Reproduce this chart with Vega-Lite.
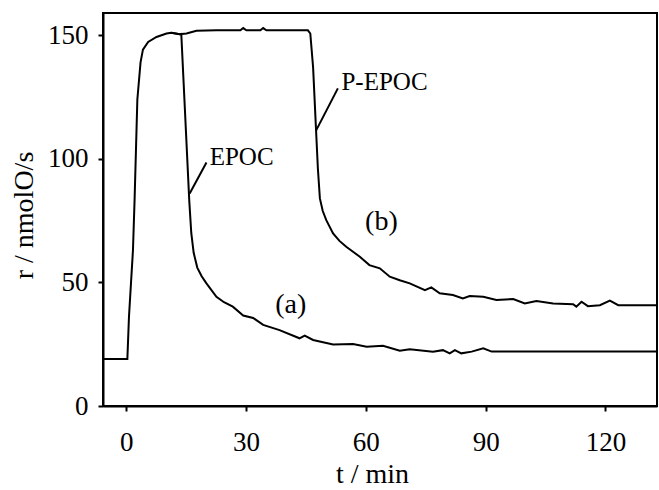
{
  "$schema": "https://vega.github.io/schema/vega-lite/v6.json",
  "autosize": "none",
  "width": 554,
  "height": 393,
  "padding": {"left": 103, "top": 13, "right": 2, "bottom": 84},
  "background": "white",
  "config": {
    "font": "Liberation Serif",
    "view": {"stroke": "black", "strokeWidth": 2},
    "axis": {
      "grid": false,
      "domainColor": "black",
      "domainWidth": 2,
      "tickColor": "black",
      "tickWidth": 2,
      "tickSize": 5,
      "labelFont": "Liberation Serif",
      "labelFontSize": 27,
      "labelColor": "black",
      "titleFont": "Liberation Serif",
      "titleFontSize": 28,
      "titleFontWeight": "normal",
      "titleColor": "black"
    }
  },
  "datasets": {
    "curves": [
      {"series": "a", "t": -5.8, "r": 19},
      {"series": "a", "t": 0.3, "r": 19},
      {"series": "a", "t": 0.7, "r": 36},
      {"series": "a", "t": 1.7, "r": 63},
      {"series": "a", "t": 2.1, "r": 83},
      {"series": "a", "t": 2.8, "r": 124},
      {"series": "a", "t": 3.6, "r": 139},
      {"series": "a", "t": 4.2, "r": 144.2},
      {"series": "a", "t": 5.5, "r": 147.3},
      {"series": "a", "t": 7.6, "r": 149.3},
      {"series": "a", "t": 10.1, "r": 150.7},
      {"series": "a", "t": 11.3, "r": 151},
      {"series": "a", "t": 13.4, "r": 150.4},
      {"series": "a", "t": 13.8, "r": 150.5},
      {"series": "a", "t": 15.8, "r": 83},
      {"series": "a", "t": 16.3, "r": 70},
      {"series": "a", "t": 16.9, "r": 62},
      {"series": "a", "t": 17.8, "r": 56},
      {"series": "a", "t": 18.9, "r": 52.5},
      {"series": "a", "t": 20.1, "r": 49.6},
      {"series": "a", "t": 22.6, "r": 44.2},
      {"series": "a", "t": 24.5, "r": 42},
      {"series": "a", "t": 26.7, "r": 40.2},
      {"series": "a", "t": 29.3, "r": 36.6},
      {"series": "a", "t": 31.8, "r": 35.6},
      {"series": "a", "t": 34.3, "r": 32.8},
      {"series": "a", "t": 38.4, "r": 30.7},
      {"series": "a", "t": 43.4, "r": 27.4},
      {"series": "a", "t": 44.7, "r": 28.5},
      {"series": "a", "t": 46.8, "r": 26.7},
      {"series": "a", "t": 51.8, "r": 24.9},
      {"series": "a", "t": 56.8, "r": 25.1},
      {"series": "a", "t": 60.2, "r": 24},
      {"series": "a", "t": 64.3, "r": 24.4},
      {"series": "a", "t": 68.5, "r": 22.4},
      {"series": "a", "t": 71, "r": 23},
      {"series": "a", "t": 76.8, "r": 22},
      {"series": "a", "t": 79.3, "r": 22.6},
      {"series": "a", "t": 81, "r": 21.3},
      {"series": "a", "t": 82.3, "r": 22.6},
      {"series": "a", "t": 83.9, "r": 21.3},
      {"series": "a", "t": 86.5, "r": 22},
      {"series": "a", "t": 89.4, "r": 23.3},
      {"series": "a", "t": 91.5, "r": 22},
      {"series": "a", "t": 132.9, "r": 22},
      {"series": "b", "t": 11.3, "r": 151},
      {"series": "b", "t": 13.4, "r": 150.4},
      {"series": "b", "t": 15.1, "r": 150.7},
      {"series": "b", "t": 17.6, "r": 151.8},
      {"series": "b", "t": 22.6, "r": 152},
      {"series": "b", "t": 28.6, "r": 152},
      {"series": "b", "t": 29.3, "r": 152.9},
      {"series": "b", "t": 30.1, "r": 152},
      {"series": "b", "t": 33.6, "r": 152},
      {"series": "b", "t": 34.3, "r": 152.9},
      {"series": "b", "t": 35.1, "r": 152},
      {"series": "b", "t": 45.5, "r": 152},
      {"series": "b", "t": 46.1, "r": 150.7},
      {"series": "b", "t": 46.8, "r": 137},
      {"series": "b", "t": 47.5, "r": 113},
      {"series": "b", "t": 48.0, "r": 96},
      {"series": "b", "t": 48.5, "r": 84},
      {"series": "b", "t": 49.2, "r": 79},
      {"series": "b", "t": 50.1, "r": 75.2},
      {"series": "b", "t": 51.8, "r": 69.8},
      {"series": "b", "t": 53.4, "r": 66.8},
      {"series": "b", "t": 55.1, "r": 64.4},
      {"series": "b", "t": 58.5, "r": 60.4},
      {"series": "b", "t": 60.9, "r": 57},
      {"series": "b", "t": 63.5, "r": 55.7},
      {"series": "b", "t": 66, "r": 52.3},
      {"series": "b", "t": 68.5, "r": 50.9},
      {"series": "b", "t": 71, "r": 49.6},
      {"series": "b", "t": 74.8, "r": 46.9},
      {"series": "b", "t": 76.4, "r": 48},
      {"series": "b", "t": 78.5, "r": 45.6},
      {"series": "b", "t": 81.8, "r": 44.9},
      {"series": "b", "t": 84.3, "r": 43.5},
      {"series": "b", "t": 86, "r": 44.5},
      {"series": "b", "t": 89.4, "r": 44.2},
      {"series": "b", "t": 92.7, "r": 42.9},
      {"series": "b", "t": 96.9, "r": 43.3},
      {"series": "b", "t": 99.8, "r": 41.5},
      {"series": "b", "t": 102.7, "r": 42.5},
      {"series": "b", "t": 106.9, "r": 41.5},
      {"series": "b", "t": 111.9, "r": 41.2},
      {"series": "b", "t": 112.7, "r": 40.2},
      {"series": "b", "t": 114, "r": 42.2},
      {"series": "b", "t": 115.6, "r": 40.4},
      {"series": "b", "t": 118.6, "r": 40.8},
      {"series": "b", "t": 121.1, "r": 42.6},
      {"series": "b", "t": 123.2, "r": 40.8},
      {"series": "b", "t": 132.9, "r": 40.8}
    ],
    "pointers": [
      {"t": 20.1, "r": 98.5, "t2": 15.9, "r2": 86},
      {"t": 53.0, "r": 128.5, "t2": 47.6, "r2": 111.6}
    ],
    "names": [
      {"label": "EPOC", "t": 20.9, "r": 97.5},
      {"label": "P-EPOC", "t": 53.9, "r": 127.8}
    ],
    "tags": [
      {"label": "(a)", "t": 41.2, "r": 37.6},
      {"label": "(b)", "t": 63.9, "r": 71.2}
    ]
  },
  "layer": [
    {
      "data": {"name": "curves"},
      "mark": {"type": "line", "color": "black", "strokeWidth": 2, "clip": true},
      "encoding": {
        "x": {
          "field": "t", "type": "quantitative",
          "scale": {"domain": [-5.8, 132.9], "nice": false, "zero": false},
          "axis": {"values": [0, 30, 60, 90, 120], "title": "t / min", "labelPadding": 18, "titleX": 269, "titleY": 76, "titleBaseline": "alphabetic", "titleAnchor": null}
        },
        "y": {
          "field": "r", "type": "quantitative",
          "scale": {"domain": [0, 159], "nice": false},
          "axis": {"values": [0, 50, 100, 150], "title": "r / nmolO/s", "labelPadding": 10, "titleX": -70.5, "titleY": 202, "titleAngle": -90, "titleBaseline": "alphabetic", "titleAlign": "center"}
        },
        "detail": {"field": "series"},
        "order": {"field": "t", "type": "quantitative"}
      }
    },
    {
      "data": {"name": "pointers"},
      "mark": {"type": "rule", "color": "black", "strokeWidth": 2},
      "encoding": {
        "x": {"field": "t", "type": "quantitative"},
        "y": {"field": "r", "type": "quantitative"},
        "x2": {"field": "t2"},
        "y2": {"field": "r2"}
      }
    },
    {
      "data": {"name": "names"},
      "mark": {"type": "text", "align": "left", "baseline": "alphabetic", "fontSize": 25, "color": "black", "font": "Liberation Serif"},
      "encoding": {
        "x": {"field": "t", "type": "quantitative"},
        "y": {"field": "r", "type": "quantitative"},
        "text": {"field": "label"}
      }
    },
    {
      "data": {"name": "tags"},
      "mark": {"type": "text", "align": "center", "baseline": "alphabetic", "fontSize": 28, "color": "black", "font": "Liberation Serif"},
      "encoding": {
        "x": {"field": "t", "type": "quantitative"},
        "y": {"field": "r", "type": "quantitative"},
        "text": {"field": "label"}
      }
    }
  ]
}
